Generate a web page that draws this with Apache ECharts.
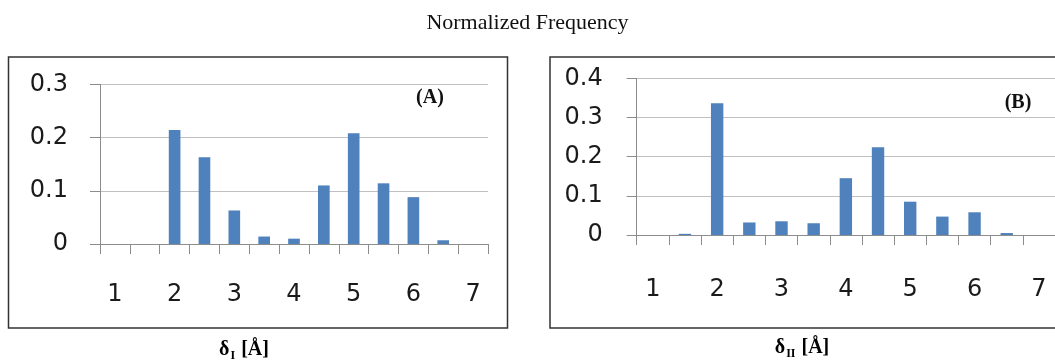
<!DOCTYPE html>
<html><head><meta charset="utf-8">
<script src="https://cdn.jsdelivr.net/npm/echarts@6/dist/echarts.min.js"></script>
<style>html,body{margin:0;padding:0;background:#fff}#c{width:1055px;height:362px}</style>
</head><body><div id="c"></div>
<script>
var categories = ['1','1.5','2','2.5','3','3.5','4','4.5','5','5.5','6','6.5','7'];
var valuesA = [0, 0, 0.214, 0.163, 0.063, 0.014, 0.010, 0.110, 0.208, 0.114, 0.088, 0.007, 0];
var valuesB = [0, 0.003, 0.336, 0.032, 0.035, 0.030, 0.145, 0.224, 0.085, 0.047, 0.058, 0.005, 0];
var yTicksA = [0, 0.1, 0.2, 0.3];
var yTicksB = [0, 0.1, 0.2, 0.3, 0.4];

var chart = echarts.init(document.getElementById('c'), null, {renderer: 'canvas'});
var labelFont = 'DejaVu Sans';
function xAx(gi, margin) {
  return {
    type: 'category', gridIndex: gi, data: categories, boundaryGap: true,
    axisLine: {lineStyle: {color: '#8c8c8c', width: 1}},
    axisTick: {show: true, length: 10, interval: 0, alignWithLabel: false, lineStyle: {color: '#8c8c8c'}},
    axisLabel: {interval: 1, margin: margin, fontFamily: labelFont, fontSize: 24, color: '#1a1a1a'}
  };
}
function yAx(gi, ticks, margin) {
  return {
    type: 'value', gridIndex: gi, min: ticks[0], max: ticks[ticks.length - 1], interval: 0.1,
    axisLine: {show: true, lineStyle: {color: '#8c8c8c', width: 1}},
    axisTick: {show: true, length: 10, lineStyle: {color: '#8c8c8c'}},
    splitLine: {show: true, lineStyle: {color: '#c0c0c0', width: 1}},
    axisLabel: {margin: margin, fontFamily: labelFont, fontSize: 24, color: '#1a1a1a',
      formatter: function (v) { return String(Math.round(v * 10) / 10); }}
  };
}
var subRich = {
  a: {fontFamily: 'Liberation Serif', fontWeight: 'bold', fontSize: 20, lineHeight: 24, color: '#111'},
  s: {fontFamily: 'Liberation Serif', fontWeight: 'bold', fontSize: 12, lineHeight: 24, verticalAlign: 'bottom', color: '#111', padding: [0, 1, 0, 1]}
};
chart.setOption({
  animation: false,
  backgroundColor: '#fff',
  title: {text: 'Normalized Frequency', left: 'center', top: 7,
    textStyle: {fontFamily: 'Liberation Serif', fontWeight: 'normal', fontSize: 22, color: '#111'}},
  grid: [
    {left: 100, top: 84.3, width: 388, height: 159.7, containLabel: false},
    {left: 636.7, top: 78.3, width: 428, height: 156.7, containLabel: false}
  ],
  xAxis: [xAx(0, 39), xAx(1, 43)],
  yAxis: [yAx(0, yTicksA, 32), yAx(1, yTicksB, 34)],
  series: [
    {type: 'bar', xAxisIndex: 0, yAxisIndex: 0, data: valuesA, barWidth: '39%', itemStyle: {color: '#4f81bd'}},
    {type: 'bar', xAxisIndex: 1, yAxisIndex: 1, data: valuesB, barWidth: '38.5%', itemStyle: {color: '#4f81bd'}}
  ],
  graphic: [
    {type: 'rect', shape: {x: 8.5, y: 57, width: 499, height: 271}, style: {fill: 'none', stroke: '#333', lineWidth: 1.5}, z: 10},
    {type: 'rect', shape: {x: 550, y: 57, width: 530, height: 271}, style: {fill: 'none', stroke: '#333', lineWidth: 1.5}, z: 10},
    {type: 'text', x: 430, y: 98, style: {text: '(A)', fontFamily: 'Liberation Serif', fontWeight: 'bold', fontSize: 20, fill: '#111', align: 'center', verticalAlign: 'middle'}, z: 10},
    {type: 'text', x: 1018, y: 103, style: {text: '(B)', fontFamily: 'Liberation Serif', fontWeight: 'bold', fontSize: 20, fill: '#111', align: 'center', verticalAlign: 'middle'}, z: 10},
    {type: 'text', x: 244, y: 350, style: {text: '{a|δ}{s|I}{a| [Å]}', rich: subRich, align: 'center', verticalAlign: 'middle'}, z: 10},
    {type: 'text', x: 802, y: 348, style: {text: '{a|δ}{s|II}{a| [Å]}', rich: subRich, align: 'center', verticalAlign: 'middle'}, z: 10}
  ]
});
</script></body></html>
